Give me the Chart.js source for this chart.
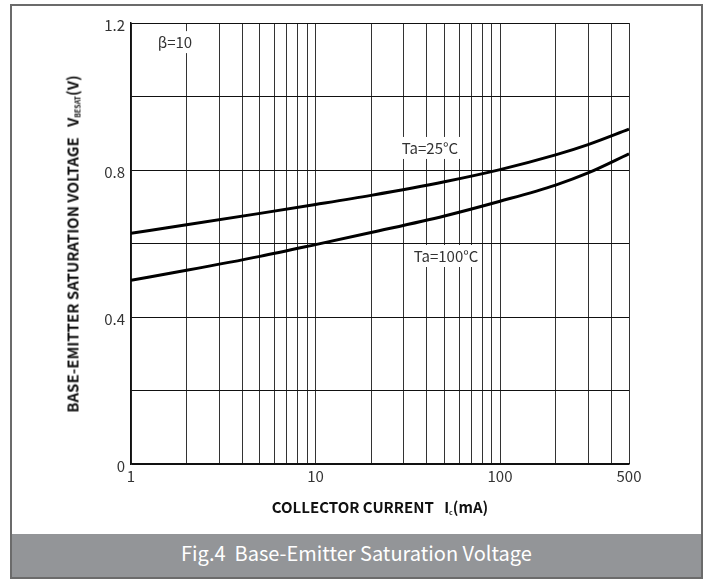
<!DOCTYPE html>
<html>
<head>
<meta charset="utf-8">
<script src="https://cdn.jsdelivr.net/npm/chart.js@4/dist/chart.umd.min.js"></script>
<style>
  html, body { margin: 0; padding: 0; background: #fff; }
  body { width: 710px; height: 581px; position: relative; overflow: hidden;
         font-family: "Noto Sans CJK JP", "Noto Sans", sans-serif; }
  #frame { position: absolute; left: 10px; top: 4px; width: 689px; height: 571px;
           border: 2px solid #6b6b6b; }
  #band { position: absolute; left: 0; right: 0; bottom: 0; height: 43px; background: #939598;
          color: #fff; font-size: 20px; text-align: center; line-height: 38px; }
  #wrap { position: absolute; left: 0; top: 0; width: 710px; height: 535px; }
  .ttl { position: absolute; font-weight: bold; font-size: 15px; color: #111; white-space: nowrap; }
  #xt { left: 0; width: 760px; top: 496px; text-align: center; }
  #yt { left: 72px; top: 244px; transform: translate(-50%, -50%) rotate(-90deg); }
  .ttl sub { font-size: 7px; vertical-align: -2px; }
</style>
</head>
<body>
<div id="frame"><div id="band">Fig.4&nbsp;&nbsp;Base-Emitter Saturation Voltage</div></div>
<div id="wrap"><canvas id="c" width="710" height="535"></canvas></div>
<div class="ttl" id="xt">COLLECTOR CURRENT&nbsp;&nbsp;&nbsp;I<sub>c</sub>(mA)</div>
<div class="ttl" id="yt">BASE-EMITTER SATURATION VOLTAGE&nbsp;&nbsp;&nbsp;V<sub>BESAT</sub>(V)</div>
<script>
// collector current (mA) sample points
const IC = [1, 2, 5, 10, 20, 50, 100, 200, 300, 500];
const V_25 = [0.628, 0.651, 0.682, 0.706, 0.731, 0.768, 0.801, 0.841, 0.869, 0.911];
const V_100 = [0.500, 0.527, 0.565, 0.597, 0.630, 0.675, 0.715, 0.759, 0.792, 0.844];

const X_TICKS = [1, 2, 3, 4, 5, 6, 7, 8, 9, 10, 20, 30, 40, 50, 60, 70, 80, 90, 100, 200, 300, 400, 500];
const X_LABELS = [1, 10, 100, 500];
const Y_LABELS = [0, 0.4, 0.8, 1.2];

const NOTES = ["β=10", "Ta=25°C", "Ta=100°C"];
const NOTE_X = [1.73, 41.7, 51];
const NOTE_Y = [1.148, 0.86, 0.566];

const FONT = "'Noto Sans CJK JP', 'Noto Sans', sans-serif";
Chart.defaults.font.family = FONT;

const notes = {
  id: "notes",
  afterDatasetsDraw(ch) {
    const { ctx, scales: { x, y } } = ch;
    ctx.save();
    ctx.font = `15px ${FONT}`;
    ctx.textAlign = "center";
    ctx.textBaseline = "middle";
    NOTES.forEach((t, i) => {
      const px = x.getPixelForValue(NOTE_X[i]), py = y.getPixelForValue(NOTE_Y[i]);
      const w = ctx.measureText(t).width + 6;
      ctx.fillStyle = "#fff";
      ctx.fillRect(px - w / 2, py - 11, w, 22);
      ctx.fillStyle = "#333";
      ctx.fillText(t, px, py);
    });
    ctx.restore();
  },
};

const curve = (data) => ({
  data: IC.map((v, i) => ({ x: v, y: data[i] })),
  borderColor: "#000", borderWidth: 3, pointRadius: 0, cubicInterpolationMode: "monotone",
});

new Chart(document.getElementById("c"), {
  type: "line",
  data: { datasets: [curve(V_25), curve(V_100)] },
  plugins: [notes],
  options: {
    responsive: false, animation: false, events: [],
    layout: { padding: { top: 23, right: 81, left: 0, bottom: 0 } },
    plugins: { legend: { display: false }, tooltip: { enabled: false } },
    scales: {
      x: {
        type: "logarithmic", min: 1, max: 500,
        afterBuildTicks: (s) => { s.ticks = X_TICKS.map((v) => ({ value: v })); },
        afterFit: (s) => { s.height = 71; },
        ticks: { autoSkip: false, maxRotation: 0, color: "#333", font: { size: 15 }, padding: 3,
                 callback: (v) => (X_LABELS.includes(v) ? String(v) : "") },
        grid: { color: "#333", lineWidth: 1, drawTicks: false },
        border: { color: "#111", width: 1.5 },
      },
      y: {
        min: 0, max: 1.2,
        afterFit: (s) => { s.width = 131; },
        ticks: { stepSize: 0.2, color: "#333", font: { size: 15 }, padding: 6, labelOffset: 2,
                 callback: (v) => (Y_LABELS.some((l) => Math.abs(l - v) < 1e-6) ? String(+v.toFixed(1)) : "") },
        grid: { color: "#111", lineWidth: 1, drawTicks: false },
        border: { color: "#111", width: 1.5 },
      },
    },
  },
});
</script>
</body>
</html>
